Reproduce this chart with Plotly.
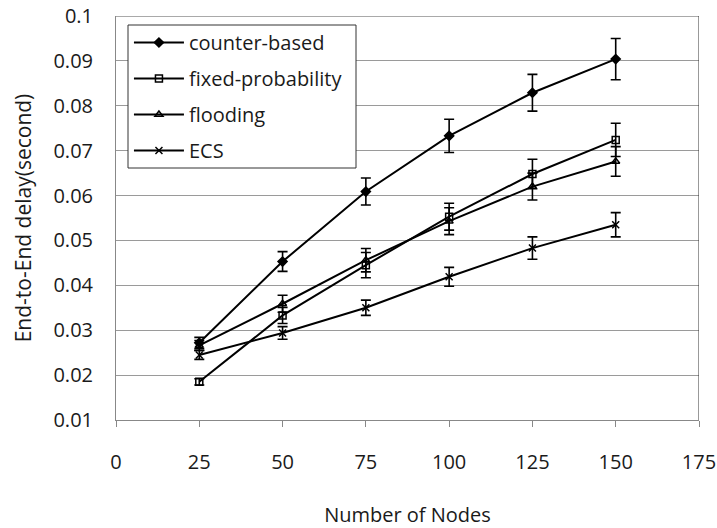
import plotly.graph_objects as go

nodes = [25, 50, 75, 100, 125, 150]

counter_based = [0.0272, 0.0453, 0.0609, 0.0733, 0.0829, 0.0904]
counter_based_err = [0.0012, 0.0022, 0.0030, 0.0037, 0.0041, 0.0046]

fixed_probability = [0.0185, 0.0333, 0.0445, 0.0553, 0.0648, 0.0724]
fixed_probability_err = [0.0007, 0.0018, 0.0028, 0.0030, 0.0033, 0.0037]

flooding = [0.0266, 0.0359, 0.0456, 0.0543, 0.0620, 0.0676]
flooding_err = [0.0011, 0.0019, 0.0026, 0.0030, 0.0030, 0.0033]

ecs = [0.0245, 0.0294, 0.0350, 0.0419, 0.0483, 0.0535]
ecs_err = [0.0010, 0.0014, 0.0017, 0.0021, 0.0025, 0.0027]

x_ticks = [0, 25, 50, 75, 100, 125, 150, 175]
y_ticks = [0.01, 0.02, 0.03, 0.04, 0.05, 0.06, 0.07, 0.08, 0.09, 0.1]
y_ticktext = ["0.01", "0.02", "0.03", "0.04", "0.05", "0.06", "0.07", "0.08", "0.09", "0.1"]

series = [
    ("counter-based", counter_based, counter_based_err, "diamond"),
    ("fixed-probability", fixed_probability, fixed_probability_err, "square-open"),
    ("flooding", flooding, flooding_err, "triangle-up-open"),
    ("ECS", ecs, ecs_err, "x-thin-open"),
]

fig = go.Figure()
for i, (name, vals, errs, sym) in enumerate(series):
    fig.add_trace(go.Scatter(
        x=nodes, y=vals, name=name, mode="lines+markers",
        legendgroup=f"g{i}",
        line=dict(color="black", width=2),
        marker=dict(symbol=sym, size=7, color="black",
                    line=dict(color="black", width=1.5)),
        error_y=dict(type="data", array=errs, visible=True,
                     color="black", thickness=1.6, width=5),
    ))

font_family = "Open Sans"
fig.update_layout(
    width=717, height=528,
    margin=dict(l=116, r=18, t=16, b=108, autoexpand=False),
    paper_bgcolor="white", plot_bgcolor="white",
    font=dict(family=font_family, size=20, color="#1a1a1a"),
    showlegend=True,
    legend=dict(
        x=0.0222, y=0.9827, xanchor="left", yanchor="top",
        bgcolor="rgba(0,0,0,0)", borderwidth=0,
        font=dict(family=font_family, size=20, color="#1a1a1a"),
        tracegroupgap=7, itemwidth=50,
    ),
    xaxis=dict(
        range=[0, 175], tickvals=x_ticks, ticks="outside", ticklen=6,
        tickcolor="#888888", showline=True, linecolor="#888888",
        showgrid=False, zeroline=False, automargin=False,
        ticklabelstandoff=18,
        title=dict(text="Number of Nodes", standoff=35,
                   font=dict(size=20)),
    ),
    yaxis=dict(
        range=[0.01, 0.1], tickvals=y_ticks, ticktext=y_ticktext,
        ticks="", showline=True, linecolor="#888888",
        showgrid=True, gridcolor="#9a9a9a", gridwidth=1,
        zeroline=False, ticklabelstandoff=18, automargin=False,
        title=dict(text="End-to-End delay(second)", standoff=16,
                   font=dict(size=21)),
    ),
    shapes=[
        dict(type="line", xref="x", yref="y", x0=0, x1=175, y0=0.1, y1=0.1,
             line=dict(color="#555555", width=1)),
        dict(type="line", xref="x", yref="y", x0=175, x1=175, y0=0.01, y1=0.1,
             line=dict(color="#333333", width=1)),
        dict(type="rect", xref="paper", yref="paper", layer="above",
             x0=(128 - 116) / 583, x1=(356 - 116) / 583,
             y0=1 - (168 - 16) / 404, y1=1 - (25 - 16) / 404,
             fillcolor="white", line=dict(color="#333333", width=1)),
    ],
)

fig.write_html("out.html")
